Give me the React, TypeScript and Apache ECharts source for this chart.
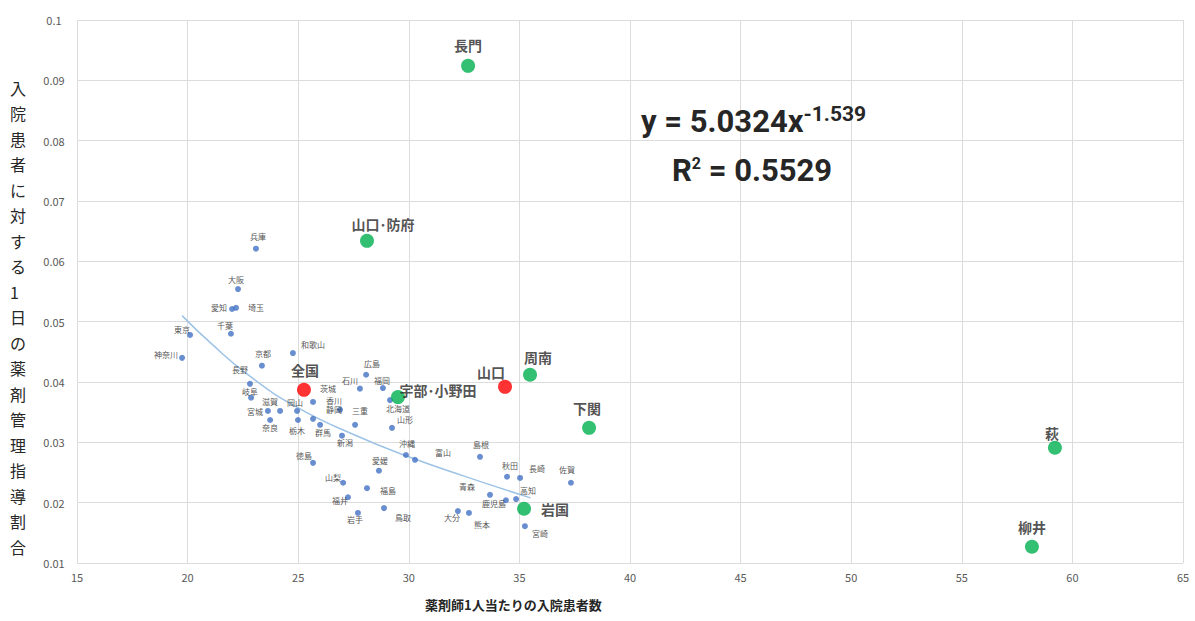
import React, { useEffect, useRef } from "react";
import * as echarts from "echarts";

// Prefecture points (blue)
const prefNames = [
  "兵庫", "大阪", "愛知", "埼玉", "千葉", "東京", "神奈川", "京都", "和歌山", "長野",
  "岐阜", "広島", "石川", "福岡", "茨城", "北海道", "山形", "滋賀", "岡山", "香川",
  "静岡", "三重", "宮城", "奈良", "栃木", "群馬", "新潟", "沖縄", "富山", "島根",
  "徳島", "愛媛", "山梨", "福島", "福井", "岩手", "鳥取", "秋田", "長崎", "佐賀",
  "青森", "鹿児島", "高知", "大分", "熊本", "宮崎",
];
const prefX = [
  23.09, 22.28, 22.01, 22.19, 21.96, 20.11, 19.75, 23.36, 24.76, 22.82,
  22.87, 28.07, 27.79, 28.83, 25.67, 29.15, 29.24, 24.18, 24.95, 26.89,
  25.67, 27.57, 23.63, 23.73, 24.99, 25.99, 26.98, 29.87, 30.28, 33.22,
  25.67, 28.65, 27.03, 28.11, 27.25, 27.7, 28.88, 34.44, 35.03, 37.33,
  33.67, 34.39, 34.85, 32.22, 32.72, 35.25,
];
const prefY = [
  0.0621, 0.0554, 0.0521, 0.0523, 0.048, 0.0478, 0.044, 0.0427, 0.0448, 0.0397,
  0.0374, 0.0412, 0.0389, 0.039, 0.0367, 0.037, 0.0324, 0.0352, 0.0352, 0.0354,
  0.0339, 0.0329, 0.0352, 0.0337, 0.0337, 0.0329, 0.0311, 0.0279, 0.0271, 0.0276,
  0.0266, 0.0253, 0.0233, 0.0224, 0.0209, 0.0183, 0.0191, 0.0243, 0.0241, 0.0233,
  0.0213, 0.0204, 0.0206, 0.0186, 0.0183, 0.0161,
];
const prefLabelOffsets = [
  [2, -12], [-2, -10], [-13, -1], [20, 0], [-6, -8], [-8, -5], [-16, -3], [1, -12], [20, -9], [-10, -14],
  [-1, -6], [6, -11], [-10, -8], [-1, -8], [15, -13], [8, 8], [13, -8], [-10, -9], [-2, -8], [-6, -9],
  [21, -9], [5, -14], [-13, 1], [0, 7], [-1, 10], [3, 8], [3, 7], [1, -12], [28, -7], [1, -12],
  [-9, -7], [1, -10], [-10, -5], [21, 2], [-8, 3], [-3, 7], [19, 9], [3, -11], [17, -9], [-4, -13],
  [-23, -8], [-12, 3], [12, -9], [-6, 6], [13, 12], [15, 7],
];

// Yamaguchi medical areas (green)
const areaNames = ["長門", "山口･防府", "周南", "宇部･小野田", "下関", "萩", "岩国", "柳井"];
const areaX = [32.68, 28.11, 35.48, 29.51, 38.15, 59.21, 35.21, 58.17];
const areaY = [0.0924, 0.0634, 0.0412, 0.0375, 0.0324, 0.0291, 0.019, 0.0127];
const areaLabelOffsets = [[0, -21], [16, -17], [8, -18], [40, -7], [-2, -20], [-3, -15], [31, 0], [0, -20]];

// Totals (red)
const totalNames = ["全国", "山口"];
const totalX = [25.26, 34.35];
const totalY = [0.0387, 0.0392];
const totalLabelOffsets = [[1, -20], [-14, -15]];

// Power trendline
const trendX = [19.75, 21, 22.8, 25, 27.5, 30, 32.5, 35.5];
const trendY = [0.051, 0.0466, 0.041, 0.0357, 0.0313, 0.0276, 0.0244, 0.0208];

const xTicks = [15, 20, 25, 30, 35, 40, 45, 50, 55, 60, 65];
const yTicks = [0.01, 0.02, 0.03, 0.04, 0.05, 0.06, 0.07, 0.08, 0.09, 0.1];

const xAxisTitle = "薬剤師1人当たりの入院患者数";
const yAxisTitle = "入院患者に対する1日の薬剤管理指導割合";

const FONT = "'Noto Sans CJK JP', 'Noto Sans', sans-serif";
const NUMFONT = "Roboto, 'Noto Sans', sans-serif";

export default function App() {
  const ref = useRef<HTMLDivElement>(null);
  useEffect(() => {
    const chart = echarts.init(ref.current!, null, { renderer: "svg" });
    const mk = (names: string[], xs: number[], ys: number[], offs: number[][], size: number, bold: boolean) =>
      names.map((n, i) => ({
        name: n,
        value: [xs[i], ys[i]],
        label: {
          show: true,
          formatter: n,
          position: "inside",
          offset: offs[i],
          fontSize: size,
          fontWeight: bold ? "bold" : "normal",
          color: "#262626",
          fontFamily: FONT,
        },
      }));
    chart.setOption({
      animation: false,
      backgroundColor: "#ffffff",
      grid: { left: 77, right: 12, top: 20, bottom: 58, containLabel: false },
      xAxis: {
        type: "value",
        min: 15,
        max: 65,
        interval: 5,
        axisLine: { show: false },
        axisTick: { show: false },
        splitLine: { lineStyle: { color: "#dcdcdc", width: 1 } },
        axisLabel: {
          color: "#595959",
          fontSize: 11,
          fontFamily: FONT,
          margin: 8,
          formatter: (v: number) => (xTicks.includes(v) ? String(v) : ""),
        },
      },
      yAxis: {
        type: "value",
        min: 0.01,
        max: 0.1,
        interval: 0.01,
        axisLine: { show: false },
        axisTick: { show: false },
        splitLine: { lineStyle: { color: "#dcdcdc", width: 1 } },
        axisLabel: {
          color: "#595959",
          fontSize: 11,
          fontFamily: FONT,
          margin: 23,
          align: "center",
          formatter: (v: number) => {
            const t = yTicks.find((k) => Math.abs(k - v) < 1e-9);
            return t === undefined ? "" : String(t);
          },
        },
      },
      series: [
        {
          type: "line",
          data: trendX.map((x, i) => [x, trendY[i]]),
          smooth: true,
          showSymbol: false,
          symbol: "none",
          lineStyle: { color: "#9dc3e6", width: 1.5 },
          z: 1,
          silent: true,
        },
        {
          type: "scatter",
          symbolSize: 6,
          itemStyle: { color: "#4472c4" },
          data: mk(prefNames, prefX, prefY, prefLabelOffsets, 8, false),
          z: 2,
        },
        {
          type: "scatter",
          symbolSize: 14,
          itemStyle: { color: "#00b050" },
          data: mk(areaNames, areaX, areaY, areaLabelOffsets, 14, true),
          z: 3,
        },
        {
          type: "scatter",
          symbolSize: 14,
          itemStyle: { color: "#ff0000" },
          data: mk(totalNames, totalX, totalY, totalLabelOffsets, 14, true),
          z: 3,
        },
      ],
      graphic: [
        {
          type: "text",
          left: 425,
          top: 598,
          z: 100,
          style: { text: xAxisTitle, fill: "#262626", font: `bold 13px ${FONT}` },
        },
        {
          type: "text",
          left: 10,
          top: 75,
          z: 100,
          style: {
            text: yAxisTitle.split("").join("\n"),
            lineHeight: 25.5,
            fill: "#262626",
            align: "center",
            font: `16px ${FONT}`,
          },
        },
        {
          type: "text",
          left: 641,
          top: 103,
          z: 100,
          style: {
            rich: {
              a: { fontSize: 31, fontWeight: "bold", fill: "#262626", fontFamily: NUMFONT },
              s: { fontSize: 21, fontWeight: "bold", fill: "#262626", padding: [0, 0, 15, 0], fontFamily: NUMFONT },
            },
            text: "{a|y = 5.0324x}{s|-1.539}",
          },
        },
        {
          type: "text",
          left: 672,
          top: 155,
          z: 100,
          style: {
            rich: {
              a: { fontSize: 31, fontWeight: "bold", fill: "#262626", fontFamily: NUMFONT },
              s: { fontSize: 16, fontWeight: "bold", fill: "#262626", padding: [0, 0, 15, 0], fontFamily: NUMFONT },
            },
            text: "{a|R}{s|2}{a| = 0.5529}",
          },
        },
      ],
    });
    return () => chart.dispose();
  }, []);
  return <div ref={ref} style={{ width: 1195, height: 621, position: "absolute", left: 0, top: 0 }} />;
}
